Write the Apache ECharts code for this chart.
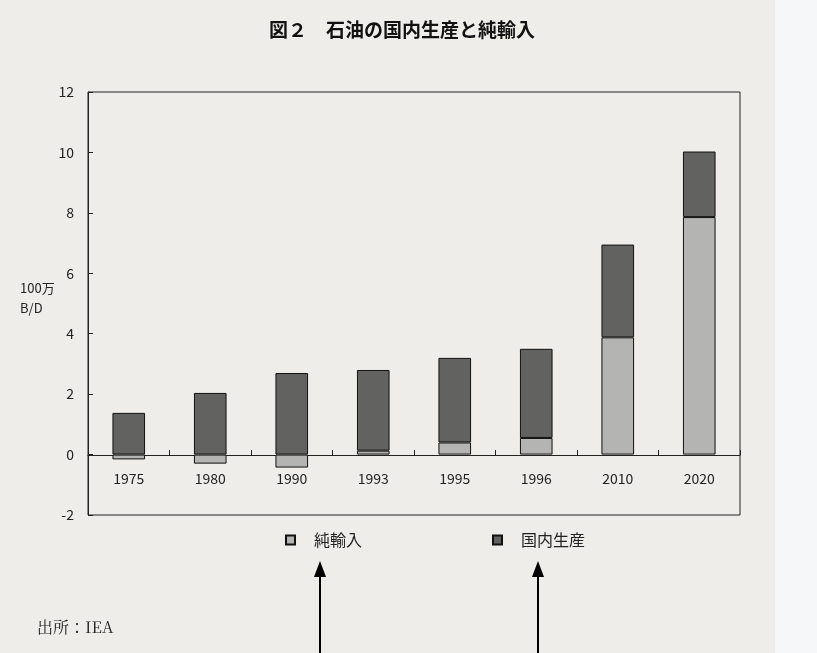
<!DOCTYPE html>
<html>
<head>
<meta charset="utf-8">
<script src="https://cdn.jsdelivr.net/npm/echarts@6/dist/echarts.min.js"></script>
<style>
  html, body { margin: 0; padding: 0; background: #eeedea; }
  #main { width: 817px; height: 653px; }
</style>
</head>
<body>
<div id="main"></div>
<script>
// データ
const years = ['1975', '1980', '1990', '1993', '1995', '1996', '2010', '2020'];
const netImport = [-0.16, -0.3, -0.43, 0.13, 0.4, 0.55, 3.88, 7.86];   // 純輸入
const domestic = [1.38, 2.04, 2.7, 2.67, 2.8, 2.95, 3.07, 2.17];      // 国内生産
const yTicks = [-2, 0, 2, 4, 6, 8, 10, 12];

const font = '"Noto Sans CJK JP", "Noto Sans", sans-serif';
const chart = echarts.init(document.getElementById('main'));

// 矢印（注釈）
function arrow(x) {
    return [
        { type: 'line', shape: { x1: x, y1: 574, x2: x, y2: 653 }, style: { stroke: '#000', lineWidth: 2 } },
        { type: 'polygon', shape: { points: [[x, 561], [x - 6, 577], [x + 6, 577]] }, style: { fill: '#000' } }
    ];
}

const option = {
    backgroundColor: '#eeedea',
    animation: false,
    title: {
        text: '図２　石油の国内生産と純輸入',
        left: 397, top: 15, textAlign: 'center',
        textStyle: { fontFamily: font, fontSize: 19, fontWeight: 'bold', color: '#111' }
    },
    grid: {
        left: 88, right: 77, top: 92, bottom: 138,
        show: true, borderColor: '#222', borderWidth: 1, backgroundColor: 'transparent'
    },
    legend: {
        left: 280, top: 527,
        itemWidth: 9, itemHeight: 9, itemGap: 130, icon: 'rect',
        textStyle: { fontFamily: font, fontSize: 16, color: '#222', padding: [0, 0, 0, 14] },
        data: ['純輸入', '国内生産']
    },
    xAxis: {
        type: 'category',
        data: years,
        offset: -60,   // 0 の位置へ
        axisLine: { onZero: false, lineStyle: { color: '#222', width: 1 } },
        axisTick: { show: true, inside: true, length: 5, lineStyle: { color: '#222' } },
        axisLabel: { margin: 17, fontFamily: font, fontSize: 14, color: '#222' }
    },
    yAxis: {
        type: 'value',
        min: yTicks[0], max: yTicks[yTicks.length - 1], interval: 2,
        axisLine: { show: true, lineStyle: { color: '#222' } },
        axisTick: { show: true, inside: true, length: 5, lineStyle: { color: '#222' } },
        splitLine: { show: false },
        axisLabel: { margin: 14, fontFamily: font, fontSize: 14, color: '#222' }
    },
    series: [
        {
            name: '純輸入', type: 'bar', stack: 'oil', barWidth: '40%',
            data: netImport,
            itemStyle: { color: '#b4b4b2', borderColor: '#111', borderWidth: 1 }
        },
        {
            name: '国内生産', type: 'bar', stack: 'oil', barWidth: '40%',
            data: domestic,
            itemStyle: { color: '#626260', borderColor: '#111', borderWidth: 1 }
        }
    ],
    graphic: [
        { type: 'text', left: 20, top: 278, style: { text: '100万\nB/D', font: '13px ' + font, fill: '#222', lineHeight: 20 } },
        { type: 'text', left: 37, top: 619, style: { text: '出所：IEA', font: '16px "Noto Serif CJK JP", ' + font, fill: '#222' } },
        { type: 'rect', left: 775, top: 0, shape: { width: 42, height: 653 }, style: { fill: '#f6f7f8' } }
    ].concat(arrow(320), arrow(538))
};

chart.setOption(option);
</script>
</body>
</html>
